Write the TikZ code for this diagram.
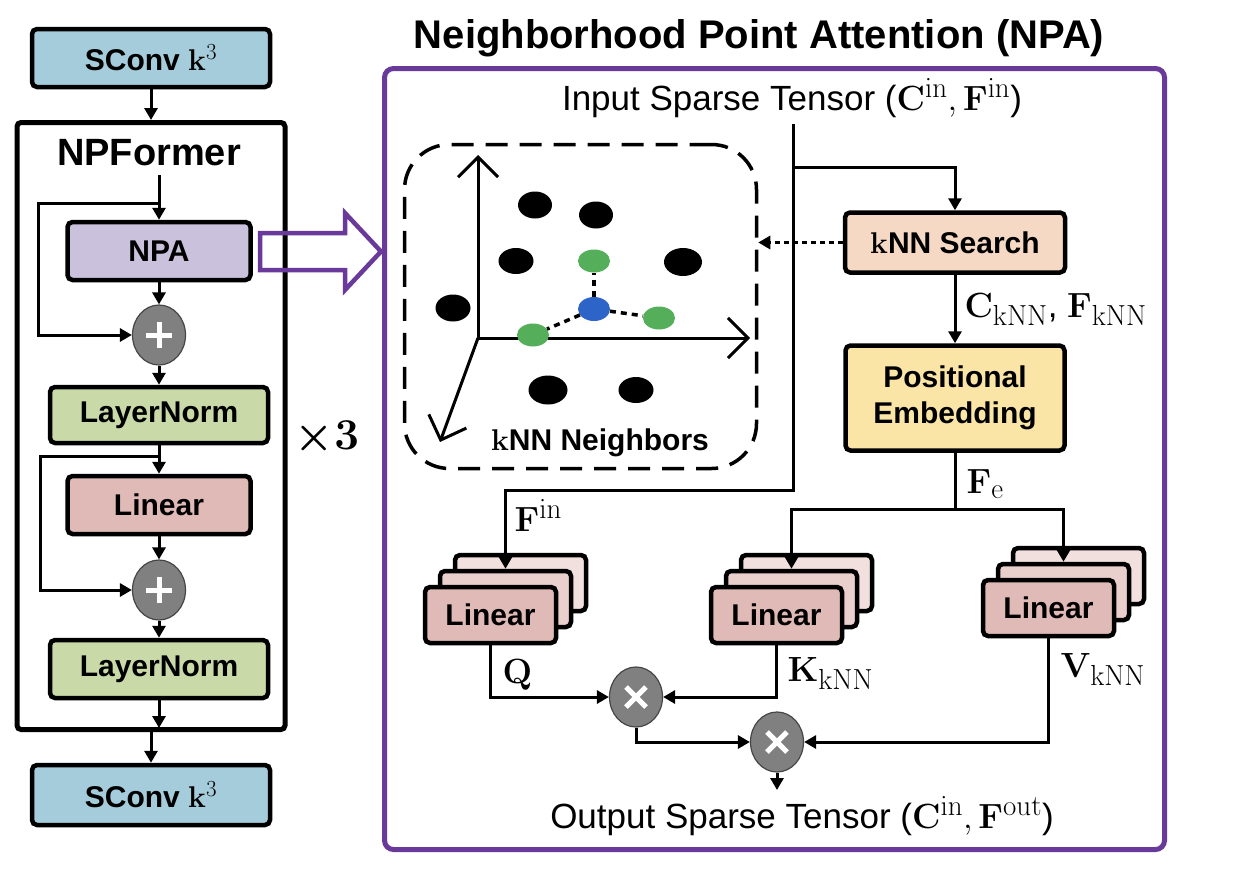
\RequirePackage{fix-cm}
\documentclass[tikz,border=0pt]{standalone}
\usepackage{amsmath}
\usepackage[no-math]{fontspec}
\setmainfont{Liberation Sans}
\DeclareMathSizes{30}{30}{23}{18}
\DeclareMathSizes{35}{35}{29}{22}
\usetikzlibrary{arrows.meta,shapes.geometric,calc}
\definecolor{npurple}{RGB}{106,58,155}
\definecolor{sconvc}{RGB}{165,204,219}
\definecolor{npac}{RGB}{202,194,221}
\definecolor{lnc}{RGB}{201,217,168}
\definecolor{linc}{RGB}{223,186,182}
\definecolor{linmid}{RGB}{234,208,205}
\definecolor{linback}{RGB}{241,224,222}
\definecolor{knnc}{RGB}{246,217,196}
\definecolor{pec}{RGB}{250,229,167}
\definecolor{opgray}{RGB}{128,128,128}
\definecolor{opborder}{RGB}{70,70,70}
\definecolor{dgreen}{RGB}{84,174,90}
\definecolor{dblue}{RGB}{44,100,200}
\begin{document}
\begin{tikzpicture}[x=1pt,y=-1pt,
  conn/.style={line width=3pt,-{Triangle[length=12pt,width=13pt]}},
  wire/.style={line width=3pt},
  blk/.style={draw, line width=4.5pt, rounded corners=5pt, inner sep=0pt, align=center,
     font=\bfseries\fontsize{30}{36}\selectfont},
  opnode/.style={ellipse, fill=opgray, draw=opborder, line width=1.2pt,
     minimum width=53pt, minimum height=60pt, inner sep=0pt},
  linfront/.style={blk, fill=linc, minimum width=131pt, minimum height=56pt},
  linm/.style={blk, fill=linmid, minimum width=131pt, minimum height=56pt},
  linb/.style={blk, fill=linback, minimum width=131pt, minimum height=56pt},
  mathlbl/.style={anchor=base west, font=\fontsize{35}{40}\selectfont},
  bigtxt/.style={anchor=base, font=\fontsize{35}{40}\selectfont},
  bdot/.style={ellipse, fill=black, inner sep=0pt},
  gdot/.style={ellipse, fill=dgreen, inner sep=0pt, minimum width=32pt, minimum height=23pt},
  axis/.style={line width=3pt, -{Straight Barb[length=20pt,width=40pt]}},
  nbline/.style={line width=3.5pt, dash pattern=on 6pt off 5pt}
]
\useasboundingbox (0,0) rectangle (1240,884);

% ---------------- left column ----------------
\node[blk, fill=sconvc, minimum width=238pt, minimum height=58pt] (sc1) at (151,58) {SConv $\mathbf{k}^{3}$};
\node[draw, line width=5pt, rounded corners=4pt, minimum width=268pt, minimum height=607pt, inner sep=0pt] (npf) at (151,426) {};
\node[anchor=base, font=\bfseries\fontsize{38}{44}\selectfont] (npft) at (149,165) {NPFormer};
\node[blk, fill=npac, minimum width=183pt, minimum height=58pt] (npa) at (159,251) {NPA};
\node[opnode] (p1) at (159,335) {};
\node[blk, fill=lnc, minimum width=218pt, minimum height=56pt] (ln1) at (159,415) {LayerNorm};
\node[blk, fill=linc, minimum width=183pt, minimum height=58pt] (lin1) at (159,505) {Linear};
\node[opnode] (p2) at (159,590) {};
\node[blk, fill=lnc, minimum width=218pt, minimum height=58pt] (ln2) at (159,669) {LayerNorm};
\node[blk, fill=sconvc, minimum width=238pt, minimum height=60pt] (sc2) at (151,795) {SConv $\mathbf{k}^{3}$};
\node[anchor=base, font=\fontsize{44}{50}\selectfont] (x3) at (327,449) {$\boldsymbol{\times}\mathbf{3}$};

\foreach \p in {p1,p2}{
  \draw[white, line width=5pt] ($(\p)+(-13,0)$) -- ($(\p)+(13,0)$);
  \draw[white, line width=5pt] ($(\p)+(0,-13)$) -- ($(\p)+(0,13)$);
}

\draw[conn] (sc1.south) -- (npf.north);
\coordinate (a0) at (159,175);
\draw[conn] (a0) -- (npa.north);
\coordinate (s1) at (159,203);
\draw[conn] (s1) -- (38,203) -- (38,335) -- (p1.west);
\draw[conn] (npa.south) -- (p1.north);
\draw[conn] (p1.south) -- (ln1.north);
\draw[conn] (ln1.south) -- (lin1.north);
\coordinate (s2) at (159,456);
\draw[conn] (s2) -- (40,456) -- (40,590) -- (p2.west);
\draw[conn] (lin1.south) -- (p2.north);
\draw[conn] (p2.south) -- (ln2.north);
\coordinate (lnend) at (159,728);
\draw[conn] (ln2.south) -- (lnend);
\draw[conn] (npf.south) -- (sc2.north);

% hollow purple arrow
\draw[npurple, line width=4.5pt, line join=miter]
  (260,233) -- (345,233) -- (345,213) -- (381,251.5) -- (345,290) -- (345,270) -- (260,270) -- cycle;

% ---------------- NPA panel ----------------
\node[anchor=base, font=\bfseries\fontsize{40}{46}\selectfont] (title) at (759,48) {Neighborhood Point Attention (NPA)};
\node[draw=npurple, line width=5pt, rounded corners=9pt, minimum width=780pt, minimum height=781pt, inner sep=0pt] (npabox) at (774.5,459) {};
\node[bigtxt] (inp) at (792,110) {Input Sparse Tensor ($\mathbf{C}^{\mathrm{in}},\mathbf{F}^{\mathrm{in}}$)};

% kNN neighbours illustration
\node[draw, line width=3.5pt, dash pattern=on 22pt off 12pt, rounded corners=45pt,
      minimum width=352pt, minimum height=324pt, inner sep=0pt] (nb) at (580.5,306.5) {};
\coordinate (O) at (478,338);
\coordinate (ay) at (478,155);
\coordinate (ax) at (750,338);
\coordinate (az) at (440,442);
\draw[axis] (O) -- (ay);
\draw[axis] (O) -- (ax);
\draw[axis] (O) -- (az);
\node[bdot, minimum width=34pt, minimum height=27pt] (d1) at (535,205) {};
\node[bdot, minimum width=34pt, minimum height=27pt] (d2) at (596,215) {};
\node[bdot, minimum width=35pt, minimum height=26pt] (d3) at (516,261) {};
\node[bdot, minimum width=38pt, minimum height=28pt] (d4) at (683,262) {};
\node[bdot, minimum width=35pt, minimum height=27pt] (d5) at (453,308) {};
\node[bdot, minimum width=39pt, minimum height=29pt] (d6) at (548,390) {};
\node[bdot, minimum width=35pt, minimum height=26pt] (d7) at (636,390) {};
\node[gdot] (g1) at (594,261) {};
\node[gdot] (g2) at (659,318) {};
\node[gdot] (g3) at (533,335) {};
\node[ellipse, fill=dblue, inner sep=0pt, minimum width=32pt, minimum height=24pt] (bl) at (594,309) {};
\draw[nbline] (bl) -- (g1);
\draw[nbline] (bl) -- (g2);
\draw[nbline] (bl) -- (g3);
\node[anchor=base, font=\bfseries\fontsize{30}{36}\selectfont] (nbl) at (600,450) {$\mathbf{k}$NN Neighbors};

% right branch
\node[blk, fill=knnc, minimum width=220pt, minimum height=60pt] (knn) at (955,242.5) {$\mathbf{k}$NN Search};
\node[blk, fill=pec, minimum width=219pt, minimum height=105pt] (pe) at (955,398) {Positional\\Embedding};

\coordinate (iv) at (793,124);
\coordinate (br) at (793,167);
\coordinate (fj) at (793,490);
\draw[conn] (br) -| (knn.north);
\draw[line width=3pt, dash pattern=on 4.5pt off 4.5pt, -{Triangle[length=12pt,width=13pt]}] (knn.west) -- (knn.west -| nb.east);
\draw[conn] (knn.south) -- (pe.north);
\node[mathlbl] (lck) at (961,317) {$\mathbf{C}_{\mathrm{kNN}}$, $\mathbf{F}_{\mathrm{kNN}}$};

% stacks of Linear
\node[linb] (qb) at (520.5,583) {};
\node[linm] (qm) at (505.5,599) {};
\node[linfront] (qf) at (490.5,615) {Linear};
\node[linb] (kb) at (806.5,583) {};
\node[linm] (km) at (791.5,599) {};
\node[linfront] (kf) at (776.5,615) {Linear};
\node[linb] (vb) at (1078.5,576) {};
\node[linm] (vm) at (1063.5,592) {};
\node[linfront] (vf) at (1048.5,608) {Linear};

\draw[conn] (iv) -- (fj) -| (qm.north);
\node[mathlbl] (lfin) at (511,531) {$\mathbf{F}^{\mathrm{in}}$};

\coordinate (fe) at ($(pe.south)+(0,57)$);
\draw[wire] (pe.south) -- (fe);
\draw[conn] (fe) -| (km.north);
\draw[conn] (fe) -| (vm.north);
\node[mathlbl] (lfe) at (963,493) {$\mathbf{F}_{\mathrm{e}}$};

% multiplications
\node[opnode] (m1) at (636,697) {};
\node[opnode] (m2) at (777,742) {};
\foreach \p in {m1,m2}{
  \draw[white, line width=5pt] ($(\p)+(-10,-10)$) -- ($(\p)+(10,10)$);
  \draw[white, line width=5pt] ($(\p)+(-10,10)$) -- ($(\p)+(10,-10)$);
}
\draw[conn] (qf.south) |- (m1.west);
\draw[conn] (kf.south) |- (m1.east);
\draw[conn] (m1.south) |- (m2.west);
\draw[conn] (vf.south) |- (m2.east);
\coordinate (oend) at (777,790);
\draw[conn] (m2.south) -- (oend);
\node[mathlbl] (lq) at (499,683) {$\mathbf{Q}$};
\node[mathlbl] (lk) at (784,681) {$\mathbf{K}_{\mathrm{kNN}}$};
\node[mathlbl] (lv) at (1057,677) {$\mathbf{V}_{\mathrm{kNN}}$};

\node[bigtxt] (outp) at (802,828) {Output Sparse Tensor ($\mathbf{C}^{\mathrm{in}},\mathbf{F}^{\mathrm{out}}$)};
\end{tikzpicture}
\end{document}
